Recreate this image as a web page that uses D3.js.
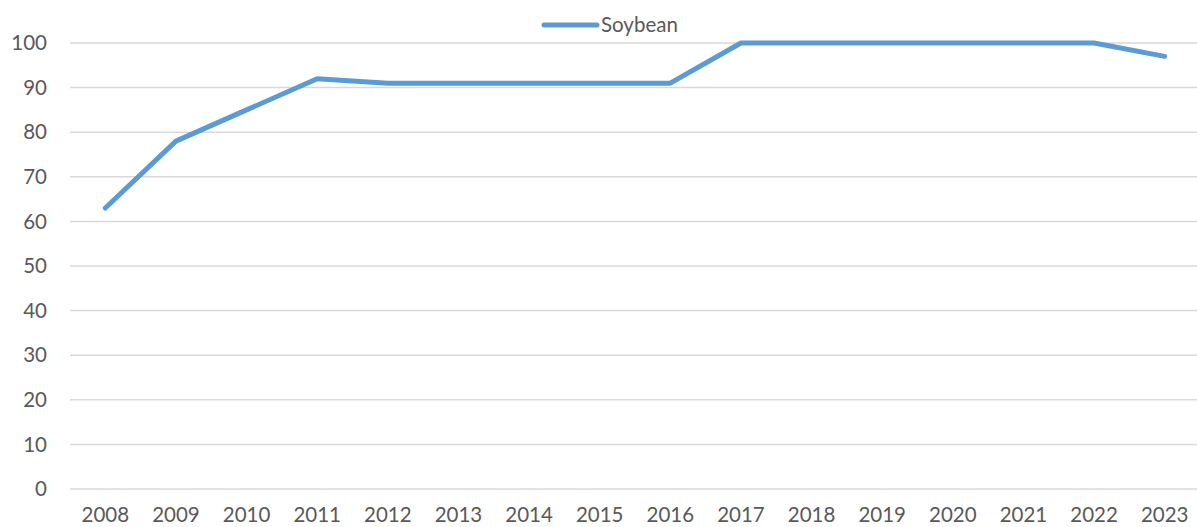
<!DOCTYPE html>
<html>
<head>
<meta charset="utf-8">
<script src="https://cdn.jsdelivr.net/npm/d3@7"></script>
<style>
  body { margin: 0; background: #fff; }
  text { font-family: Lato, "Open Sans", sans-serif; fill: #595959; }
</style>
</head>
<body>
<div id="chart"></div>
<script>
(function() {
// chart data
var years = ["2008", "2009", "2010", "2011", "2012", "2013", "2014", "2015",
             "2016", "2017", "2018", "2019", "2020", "2021", "2022", "2023"];
var soybean = [63, 78, 85, 92, 91, 91, 91, 91, 91, 100, 100, 100, 100, 100, 100, 97];
var yTicks = [0, 10, 20, 30, 40, 50, 60, 70, 80, 90, 100];
var seriesName = "Soybean";

var width = 1197, height = 527;
var margin = {top: 43, bottom: 38, left: 70, right: -3};
var fontSize = "20.5px";

var svg = d3.select("#chart").append("svg")
            .attr("width", width)
            .attr("height", height);

var xScale = d3.scalePoint()
               .domain(years)
               .range([margin.left, width - margin.right])
               .padding(0.5);

var yScale = d3.scaleLinear()
               .domain([0, 100])
               .range([height - margin.bottom, margin.top]);

// horizontal gridlines
svg.append("g")
   .selectAll("line")
   .data(yTicks)
   .enter().append("line")
     .attr("x1", margin.left)
     .attr("x2", width)
     .attr("y1", function(d) { return yScale(d); })
     .attr("y2", function(d) { return yScale(d); })
     .attr("stroke", "#d9d9d9")
     .attr("stroke-width", 1.5);

// y labels
svg.append("g")
   .selectAll("text")
   .data(yTicks)
   .enter().append("text")
     .attr("x", 47)
     .attr("y", function(d) { return yScale(d); })
     .attr("dy", "0.35em")
     .attr("text-anchor", "end")
     .style("font-size", fontSize)
     .text(function(d) { return d; });

// x labels, close to the bottom edge
svg.append("g")
   .selectAll("text")
   .data(years)
   .enter().append("text")
     .attr("x", function(d) { return xScale(d); })
     .attr("y", 522)
     .attr("text-anchor", "middle")
     .style("font-size", fontSize)
     .text(function(d) { return d; });

// series line
var line = d3.line()
             .x(function(d, i) { return xScale(years[i]); })
             .y(function(d) { return yScale(d); });

svg.append("path")
   .datum(soybean)
   .attr("d", line)
   .attr("fill", "none")
   .attr("stroke", "#5b9bd5")
   .attr("stroke-width", 5)
   .attr("stroke-linecap", "round")
   .attr("stroke-linejoin", "round");

// legend
var legend = svg.append("g").attr("transform", "translate(544,25)");
legend.append("line")
      .attr("x1", 0).attr("x2", 53)
      .attr("y1", 0).attr("y2", 0)
      .attr("stroke", "#5b9bd5")
      .attr("stroke-width", 5)
      .attr("stroke-linecap", "round");
legend.append("text")
      .attr("x", 57)
      .attr("dy", "0.35em")
      .style("font-size", fontSize)
      .text(seriesName);
})();
</script>
</body>
</html>
